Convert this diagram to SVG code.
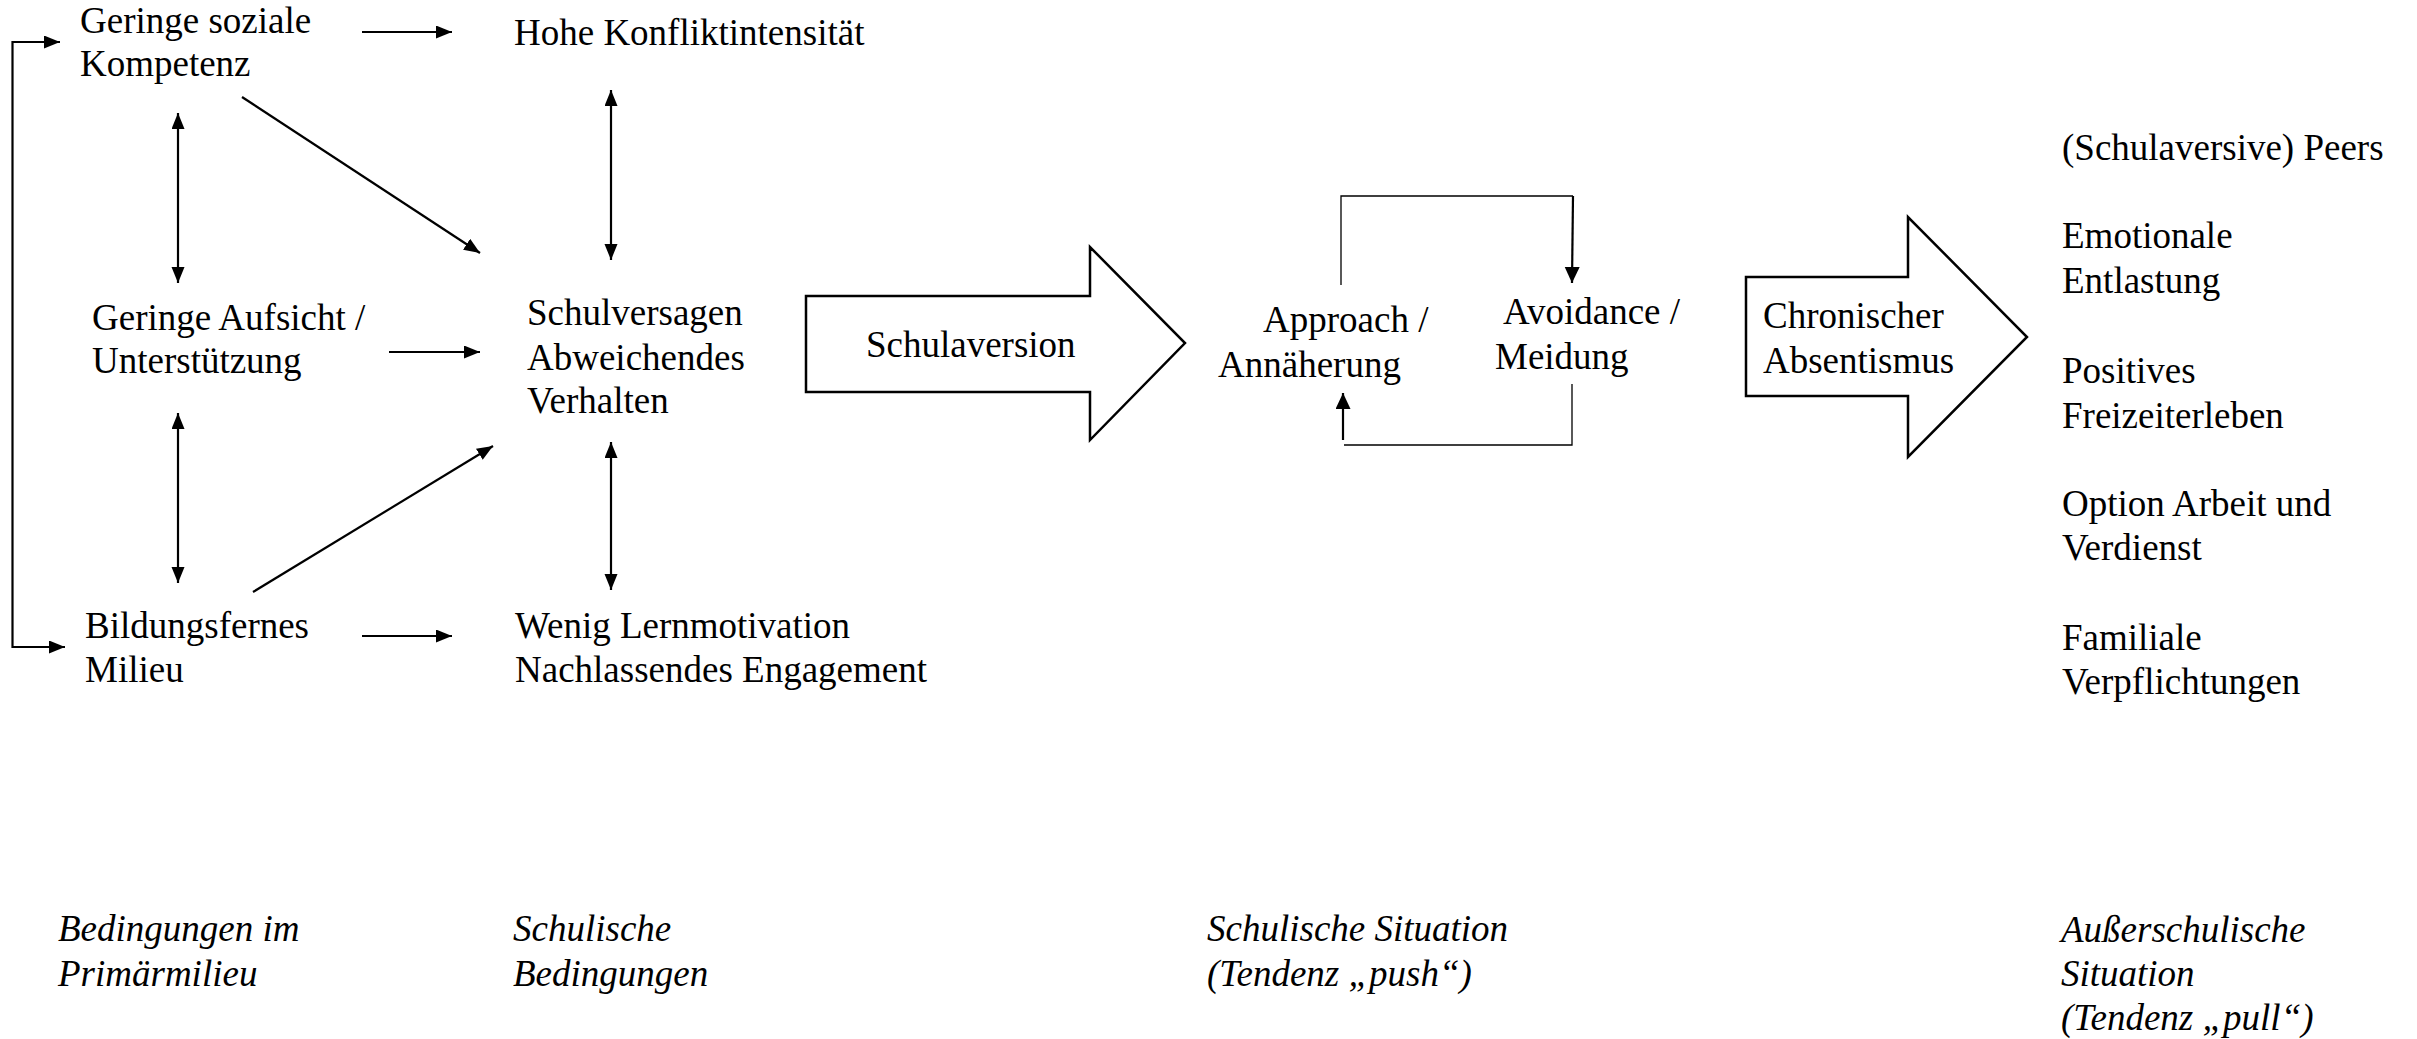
<svg xmlns="http://www.w3.org/2000/svg" width="2417" height="1039" viewBox="0 0 2417 1039">
<style>
text{font-family:'Liberation Serif','Times New Roman',Times,serif;font-size:37px;fill:#000}
.it{font-style:italic}
.c{fill:none;stroke:#000;stroke-width:2.2}
.thin{fill:none;stroke:#000;stroke-width:1.3}
.big{fill:#fff;stroke:#000;stroke-width:2.5;stroke-linejoin:miter}
</style>
<defs>
<marker id="ah" markerUnits="userSpaceOnUse" markerWidth="17" markerHeight="14" refX="16" refY="6.5" orient="auto-start-reverse" viewBox="0 0 17 14">
<path d="M0,0 L16,6.5 L0,13 z" fill="#000"/>
</marker>
<marker id="ah2" markerUnits="userSpaceOnUse" markerWidth="17" markerHeight="16" refX="16" refY="7.5" orient="auto-start-reverse" viewBox="0 0 17 16">
<path d="M0,0 L16,7.5 L0,15 z" fill="#000"/>
</marker>
</defs>
<rect width="2417" height="1039" fill="#fff"/>

<g id="connectors">
<path class="c" d="M362,32 H452" marker-end="url(#ah)"/>
<path class="c" d="M60,42 H12.5 V647 H65" marker-start="url(#ah)" marker-end="url(#ah)"/>
<path class="c" d="M178,113 V283" marker-start="url(#ah)" marker-end="url(#ah)"/>
<path class="c" d="M242,97 L480,253" marker-end="url(#ah)"/>
<path class="c" d="M389,352 H480" marker-end="url(#ah)"/>
<path class="c" d="M178,413 V583" marker-start="url(#ah)" marker-end="url(#ah)"/>
<path class="c" d="M253,592 L493,446" marker-end="url(#ah)"/>
<path class="c" d="M362,636 H452" marker-end="url(#ah)"/>
<path class="c" d="M611,90 V260" marker-start="url(#ah)" marker-end="url(#ah)"/>
<path class="c" d="M611,442 V590" marker-start="url(#ah)" marker-end="url(#ah)"/>
<path class="thin" d="M1341,285 V196 H1573"/>
<path class="c" d="M1573,196 L1572,283" marker-end="url(#ah2)"/>
<path class="thin" d="M1572,384 V445 H1344"/>
<path class="c" d="M1343,440 V393" marker-end="url(#ah2)"/>
</g>

<g font-family="Liberation Serif, Times New Roman, serif">
<g id="n-soziale"><text x="80" y="33">Geringe soziale</text><text x="80" y="76">Kompetenz</text></g>
<g id="n-aufsicht"><text x="92" y="330">Geringe Aufsicht /</text><text x="92" y="373">Unterstützung</text></g>
<g id="n-milieu"><text x="85" y="638">Bildungsfernes</text><text x="85" y="682">Milieu</text></g>
<g id="n-konflikt"><text x="514" y="45">Hohe Konfliktintensität</text></g>
<g id="n-schulversagen"><text x="527" y="325">Schulversagen</text><text x="527" y="370">Abweichendes</text><text x="527" y="413">Verhalten</text></g>
<g id="n-lernmotivation"><text x="515" y="638">Wenig Lernmotivation</text><text x="515" y="682">Nachlassendes Engagement</text></g>
<g id="n-schulaversion"><polygon class="big" points="806,296 1090,296 1090,247 1185,343 1090,440 1090,392 806,392"/><text x="866" y="357">Schulaversion</text></g>
<g id="n-approach"><text x="1263" y="332">Approach /</text><text x="1218" y="377">Annäherung</text></g>
<g id="n-avoidance"><text x="1503" y="324">Avoidance /</text><text x="1495" y="369">Meidung</text></g>
<g id="n-absentismus"><polygon class="big" points="1746,277 1908,277 1908,217 2027,337 1908,457 1908,396 1746,396"/><text x="1763" y="328">Chronischer</text><text x="1763" y="373">Absentismus</text></g>
<g id="n-peers"><text x="2062" y="160">(Schulaversive) Peers</text></g>
<g id="n-emotional"><text x="2062" y="248">Emotionale</text><text x="2062" y="293">Entlastung</text></g>
<g id="n-freizeit"><text x="2062" y="383">Positives</text><text x="2062" y="428">Freizeiterleben</text></g>
<g id="n-arbeit"><text x="2062" y="516">Option Arbeit und</text><text x="2062" y="560">Verdienst</text></g>
<g id="n-familie"><text x="2062" y="650">Familiale</text><text x="2062" y="694">Verpflichtungen</text></g>

<g id="l-primaer"><text class="it" x="58" y="941">Bedingungen im</text><text class="it" x="58" y="986">Primärmilieu</text></g>
<g id="l-schulisch"><text class="it" x="513" y="941">Schulische</text><text class="it" x="513" y="986">Bedingungen</text></g>
<g id="l-push"><text class="it" x="1207" y="941">Schulische Situation</text><text class="it" x="1207" y="986">(Tendenz „push“)</text></g>
<g id="l-pull"><text class="it" x="2061" y="942">Außerschulische</text><text class="it" x="2061" y="986">Situation</text><text class="it" x="2061" y="1030">(Tendenz „pull“)</text></g>
</g>
</svg>
